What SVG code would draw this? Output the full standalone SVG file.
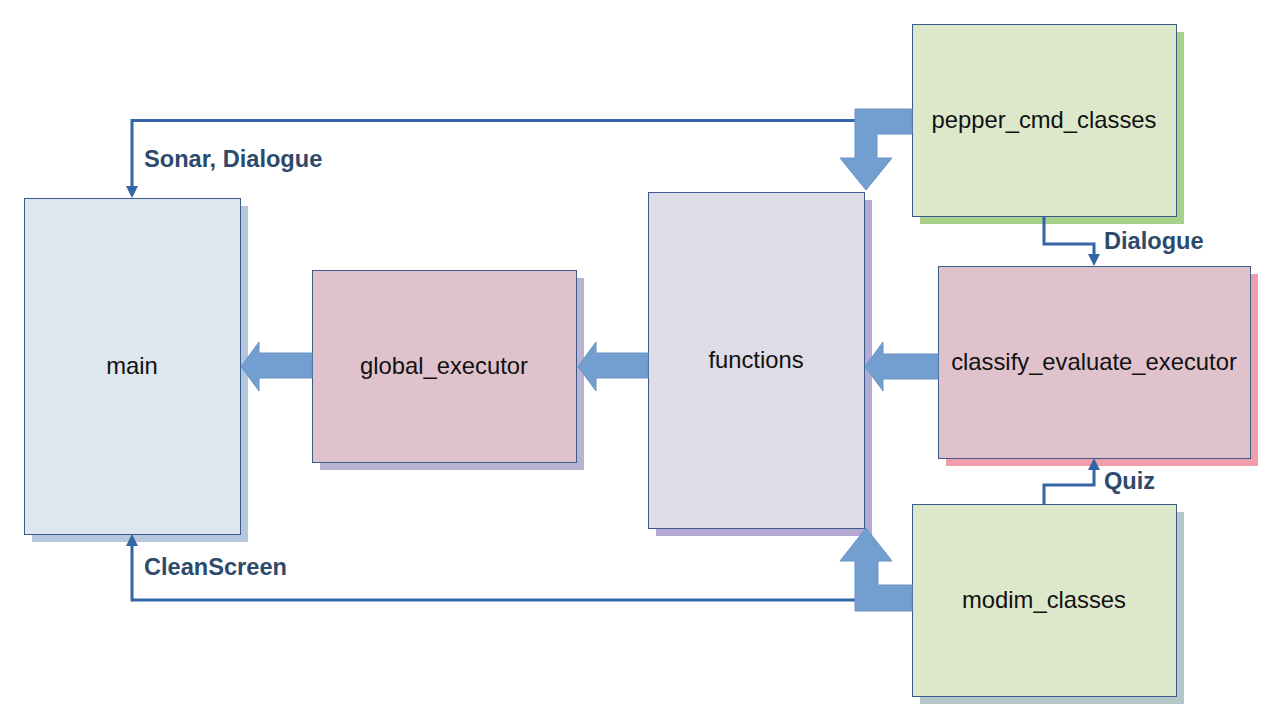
<svg xmlns="http://www.w3.org/2000/svg" width="1280" height="720" viewBox="0 0 1280 720">
<defs>
<style>
.box{stroke:#3b5b8c;stroke-width:1}
.t{font-family:"Liberation Sans",Arial,sans-serif;font-size:23.8px;fill:#111;text-anchor:middle}
.lbl{font-family:"Liberation Sans",Arial,sans-serif;font-size:23.6px;font-weight:bold;fill:#2e4a6b}
.line{fill:none;stroke:#3465a4;stroke-width:3}
.blk{fill:#729fcf;stroke:#6a93c4;stroke-width:1}
</style>
</defs>
<rect width="1280" height="720" fill="#fff"/>

<g id="main">
<rect x="32" y="206" width="216" height="336" fill="#b4c7dc"/>
<rect class="box" x="24.5" y="198.5" width="216" height="336" fill="#dee6ef"/>
<text class="t" x="132" y="374">main</text>
</g>

<g id="global_executor">
<rect x="320" y="278" width="264" height="192" fill="#b9b3d1"/>
<rect class="box" x="312.5" y="270.5" width="264" height="192" fill="#e0c2cd"/>
<text class="t" x="444" y="374">global_executor</text>
</g>

<g id="functions">
<rect x="656" y="200" width="216" height="336" fill="#b4aad4"/>
<rect class="box" x="648.5" y="192.5" width="216" height="336" fill="#dedce6"/>
<text class="t" x="756" y="368">functions</text>
</g>

<g id="classify_evaluate_executor">
<rect x="946" y="274" width="312" height="192" fill="#ee9fab"/>
<rect class="box" x="938.5" y="266.5" width="312" height="192" fill="#e0c2cd"/>
<text class="t" x="1094" y="370">classify_evaluate_executor</text>
</g>

<g id="pepper_cmd_classes">
<rect x="920" y="32" width="264" height="192" fill="#a9d18e"/>
<rect class="box" x="912.5" y="24.5" width="264" height="192" fill="#dde8cb"/>
<text class="t" x="1044" y="128">pepper_cmd_classes</text>
</g>

<g id="modim_classes">
<rect x="920" y="512" width="264" height="192" fill="#b4c7c8"/>
<rect class="box" x="912.5" y="504.5" width="264" height="192" fill="#dde8cb"/>
<text class="t" x="1044" y="608">modim_classes</text>
</g>

<g id="connectors">
<path class="line" d="M855,120.5 H132 V190"/>
<path d="M126,186 L138,186 L132,198 Z" fill="#3465a4"/>
<path class="line" d="M855,600 H132 V542"/>
<path d="M126,546 L138,546 L132,534 Z" fill="#3465a4"/>
<path class="line" d="M1044,216 V244 H1094 V258"/>
<path d="M1088,254 L1100,254 L1094,266 Z" fill="#3465a4"/>
<path class="line" d="M1044,504 V485 H1094 V466"/>
<path d="M1088,470 L1100,470 L1094,458 Z" fill="#3465a4"/>
<path class="blk" d="M912,109 V134 H877 V158 H892 L866,190 L840,158 H855 V109 Z"/>
<path class="blk" d="M912,611 V585 H878 V561 H892 L866,528 L840,561 H855 V611 Z"/>
<path class="blk" d="M312,353 V378 H259 V391 L241,366.5 L259,342 V353 Z"/>
<path class="blk" d="M648,353 V378 H596 V391 L578,366.5 L596,342 V353 Z"/>
<path class="blk" d="M938,354 V379 H883 V391 L865,366.5 L883,342 V354 Z"/>
<text class="lbl" x="144" y="167">Sonar, Dialogue</text>
<text class="lbl" x="144" y="575">CleanScreen</text>
<text class="lbl" x="1104" y="249">Dialogue</text>
<text class="lbl" x="1104" y="489">Quiz</text>
</g>
</svg>
